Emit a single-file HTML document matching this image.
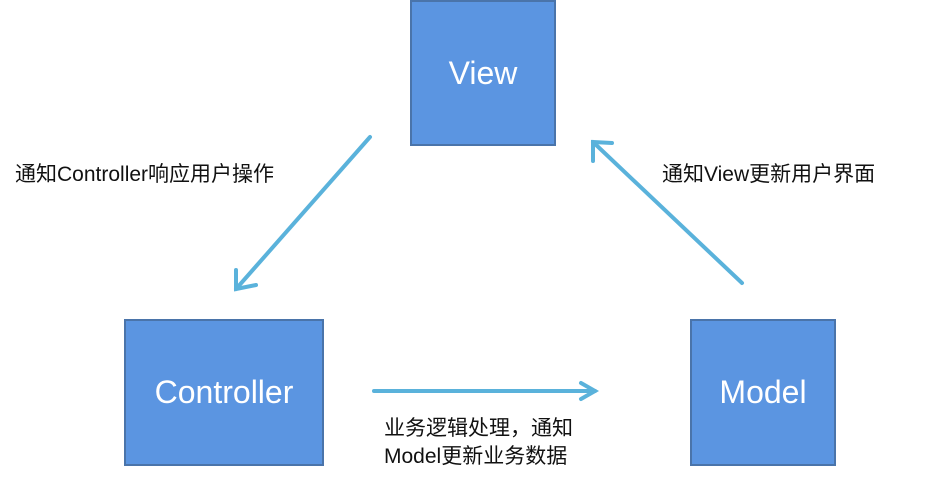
<!DOCTYPE html>
<html><head><meta charset="utf-8"><style>
body{margin:0;width:947px;height:479px;background:#fff;position:relative;overflow:hidden;font-family:"Liberation Sans","Noto Sans CJK SC",sans-serif}
.b{position:absolute;background:#5b95e1;border:2px solid #4a74aa;box-sizing:border-box;color:#fff;display:flex;align-items:center;justify-content:center;font-size:32px}
.t{position:absolute;font-size:21px;color:#111;line-height:28px}
</style></head><body>
<div class="b" style="left:410px;top:0;width:146px;height:146px">View</div>
<div class="b" style="left:124px;top:319px;width:200px;height:147px">Controller</div>
<div class="b" style="left:690px;top:319px;width:146px;height:147px">Model</div>
<svg width="947" height="479" style="position:absolute;left:0;top:0">
<defs><marker id="a" markerWidth="8" markerHeight="8" refX="5" refY="4" orient="auto" markerUnits="userSpaceOnUse"><path d="M0,0 L0,0" /></marker></defs>
<g stroke="#5ab2db" stroke-width="4" fill="none" stroke-linecap="round">
<line x1="370" y1="137" x2="236" y2="289"/><polyline points="236,270 236,289 256,285"/>
<line x1="742" y1="283" x2="593" y2="142"/><polyline points="593,161 593,142 612,143"/>
<line x1="374" y1="391" x2="595" y2="391"/><polyline points="581,383 595,391 581,399"/>
</g></svg>
<div class="t" style="left:15px;top:161px">通知Controller响应用户操作</div>
<div class="t" style="left:662px;top:161px">通知View更新用户界面</div>
<div class="t" style="left:384px;top:415px">业务逻辑处理，通知<br>Model更新业务数据</div>
</body></html>
